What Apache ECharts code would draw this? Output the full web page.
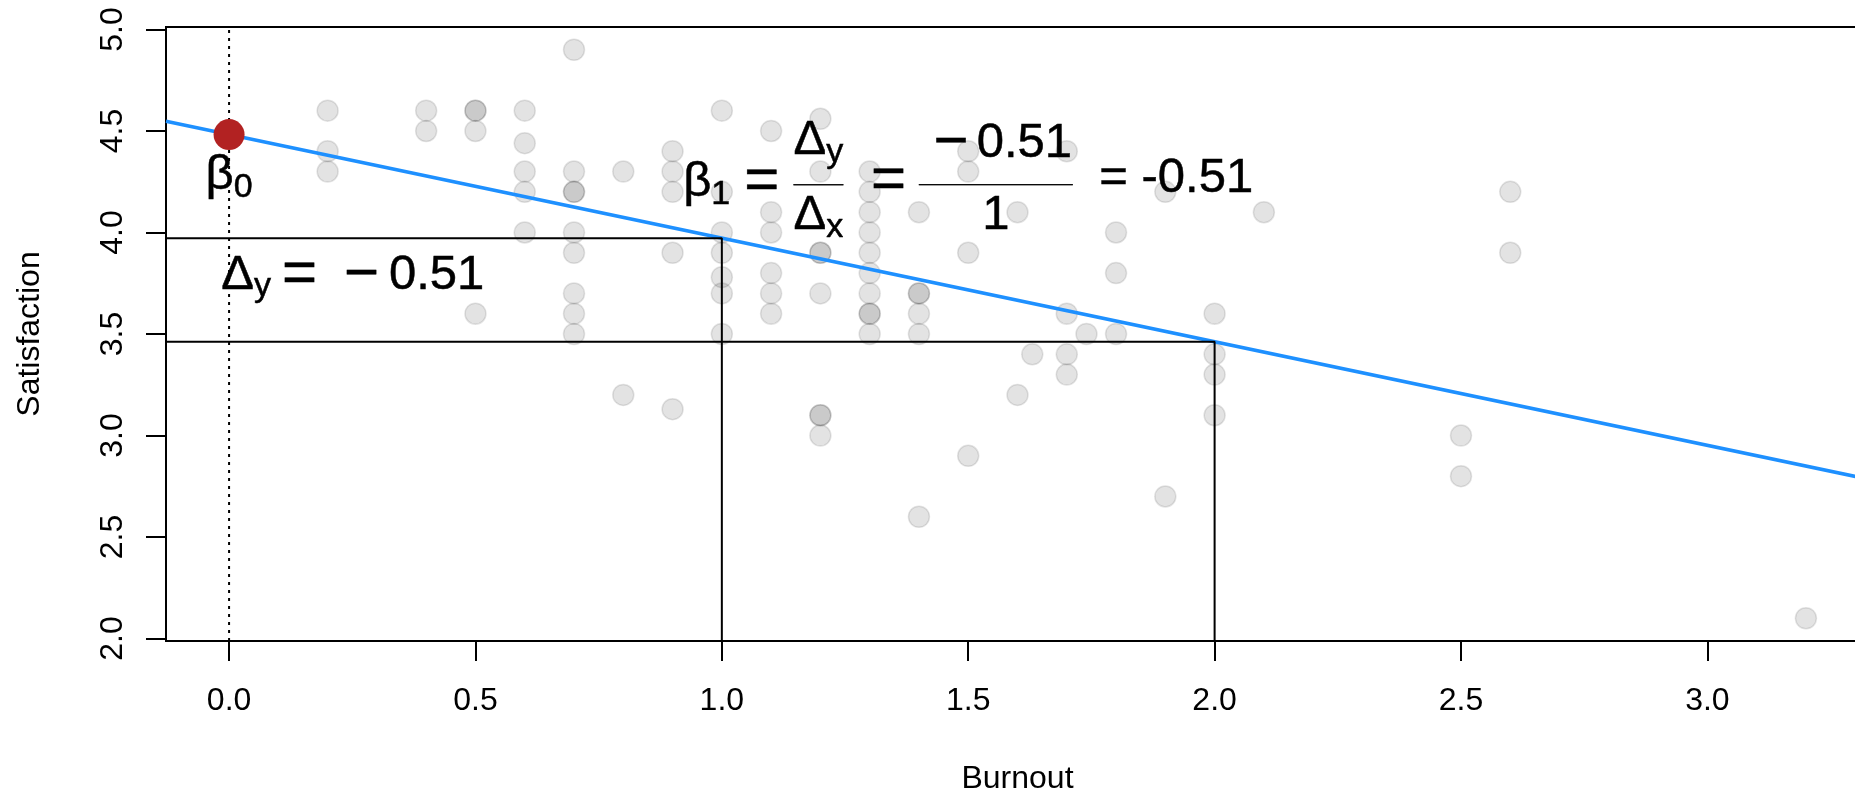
<!DOCTYPE html>
<html>
<head>
<meta charset="utf-8">
<script src="https://cdn.jsdelivr.net/npm/echarts@6/dist/echarts.min.js"></script>
<style>
  html, body { margin: 0; padding: 0; background: #ffffff; }
  #chart { width: 1855px; height: 793px; }
</style>
</head>
<body>
<div id="chart"></div>
<script>
// Burnout score of each respondent
const burnout = [
  0.2, 0.2, 0.2,
  0.4, 0.4,
  0.5, 0.5, 0.5, 0.5,
  0.6, 0.6, 0.6, 0.6, 0.6,
  0.7, 0.7, 0.7, 0.7, 0.7, 0.7, 0.7, 0.7, 0.7,
  0.8, 0.8,
  0.9, 0.9, 0.9, 0.9, 0.9,
  1.0, 1.0, 1.0, 1.0, 1.0, 1.0, 1.0,
  1.1, 1.1, 1.1, 1.1, 1.1, 1.1,
  1.2, 1.2, 1.2, 1.2, 1.2, 1.2, 1.2, 1.2,
  1.3, 1.3, 1.3, 1.3, 1.3, 1.3, 1.3, 1.3, 1.3, 1.3,
  1.4, 1.4, 1.4, 1.4, 1.4, 1.4,
  1.5, 1.5, 1.5, 1.5,
  1.6, 1.6,
  1.63,
  1.7, 1.7, 1.7, 1.7,
  1.74,
  1.8, 1.8, 1.8,
  1.9, 1.9,
  2.0, 2.0, 2.0, 2.0,
  2.1,
  2.5, 2.5,
  2.6, 2.6,
  3.2
];
// Satisfaction score of the same respondents
const satisfaction = [
  4.6, 4.4, 4.3,
  4.6, 4.5,
  4.6, 4.6, 4.5, 3.6,
  4.6, 4.44, 4.3, 4.2, 4.0,
  4.9, 4.3, 4.2, 4.2, 4.0, 3.9, 3.7, 3.6, 3.5,
  4.3, 3.2,
  4.4, 4.3, 4.2, 3.9, 3.13,
  4.6, 4.2, 4.0, 3.9, 3.78, 3.7, 3.5,
  4.5, 4.1, 4.0, 3.8, 3.7, 3.6,
  4.56, 4.3, 3.9, 3.9, 3.7, 3.1, 3.1, 3.0,
  4.3, 4.2, 4.1, 4.0, 3.9, 3.8, 3.7, 3.6, 3.6, 3.5,
  4.1, 3.7, 3.7, 3.6, 3.5, 2.6,
  4.4, 4.3, 3.9, 2.9,
  4.1, 3.2,
  3.4,
  4.4, 3.6, 3.4, 3.3,
  3.5,
  4.0, 3.8, 3.5,
  4.2, 2.7,
  3.6, 3.4, 3.3, 3.1,
  4.1,
  3.0, 2.8,
  4.2, 3.9,
  2.1
];
// Least-squares fit: satisfaction = intercept + slope * burnout
const intercept = 4.482;
const slope = -0.51;
// Axis tick values
const xTicks = [0, 0.5, 1, 1.5, 2, 2.5, 3];
const yTicks = [2, 2.5, 3, 3.5, 4, 4.5, 5];
// Plotting region in data units
const xRange = [-0.128, 3.328];
const yRange = [1.988, 5.012];

const FONT = '"Liberation Sans", Arial, Helvetica, sans-serif';
const fitAt = x => intercept + slope * x;

const points = burnout.map((b, i) => [b, satisfaction[i]]);
const yAt1 = fitAt(1);
const yAt2 = fitAt(2);

// Text styles for the formula annotations (subscripts are pushed down by their top padding)
const T = { fontFamily: FONT, color: '#000', textBorderColor: '#000', textBorderWidth: 0.5 };
const SUB = 24;
const rich = {
  g:   Object.assign({ fontSize: 49, lineHeight: 56 }, T),
  s:   Object.assign({ fontSize: 34, lineHeight: 56, padding: [SUB, 0, 0, 0] }, T),
  sy:  Object.assign({ fontSize: 34, lineHeight: 56, padding: [SUB, 11, 0, 0] }, T),
  s1:  Object.assign({ fontSize: 34, lineHeight: 56, padding: [SUB, 14, 0, 0] }, T),
  op:  Object.assign({ fontSize: 60, lineHeight: 56 }, T),
  opA: Object.assign({ fontSize: 60, lineHeight: 56, padding: [0, 27, 0, 0] }, T),
  opB: Object.assign({ fontSize: 60, lineHeight: 56, padding: [0, 10, 0, 0] }, T),
  opN: Object.assign({ fontSize: 60, lineHeight: 56, padding: [0, 8, 0, 14] }, T),
  gD:  Object.assign({ fontSize: 49, lineHeight: 30 }, T),
  sD:  Object.assign({ fontSize: 34, lineHeight: 30, padding: [SUB, 0, 0, 0] }, T),
  gE:  Object.assign({ fontSize: 49, lineHeight: 35 }, T),
  bar1: { width: 50, height: 0, lineHeight: 32, borderColor: '#000', borderWidth: 1 },
  bar2: { width: 154, height: 0, lineHeight: 27, borderColor: '#000', borderWidth: 1 }
};

const note = (pos, text) => ({
  value: pos,
  label: { show: true, formatter: text }
});

const annotations = [
  note([0, 4.281], '{g|β}{s|0}'),
  note([0.251, 3.790], '{g|Δ}{sy|y}{opA|=}{opB|−}{g|0.51}'),
  note([1.019, 4.246], '{g|β}{s1|1}{op|=}'),
  note([1.196, 4.299], '{g|Δ}{s|y}\n{bar1|}\n{gD|Δ}{sD|x}'),
  note([1.338, 4.250], '{op|=}'),
  note([1.556, 4.287], '{opN|−}{g|0.51}\n{bar2|}\n{gE|1}'),
  note([1.922, 4.266], '{g|= -0.51}')
];

const axisText = { fontFamily: FONT, fontSize: 32, color: '#000' };
const blackLine = (data, extra) => Object.assign({
  type: 'line', data: data, symbol: 'none', silent: true, z: 3,
  lineStyle: { color: '#000', width: 2 }
}, extra || {});

const chart = echarts.init(document.getElementById('chart'), null, { renderer: 'canvas' });
chart.setOption({
  animation: false,
  backgroundColor: '#ffffff',
  grid: {
    left: 166, top: 27, width: 1703, height: 614,
    show: true, borderColor: '#000', borderWidth: 2,
    containLabel: false, outerBoundsMode: 'none'
  },
  xAxis: {
    type: 'value', min: xRange[0], max: xRange[1],
    axisLine: { show: false, onZero: false },
    splitLine: { show: false },
    axisTick: { show: true, customValues: xTicks, length: 20, lineStyle: { color: '#000', width: 2 } },
    axisLabel: Object.assign({ customValues: xTicks, formatter: v => v.toFixed(1), margin: 44 }, axisText),
    name: 'Burnout', nameLocation: 'middle', nameGap: 122,
    nameTextStyle: axisText
  },
  yAxis: {
    type: 'value', min: yRange[0], max: yRange[1],
    axisLine: { show: false, onZero: false },
    splitLine: { show: false },
    axisTick: { show: true, customValues: yTicks, length: 20, lineStyle: { color: '#000', width: 2 } },
    axisLabel: Object.assign({ customValues: yTicks, formatter: v => v.toFixed(1), rotate: 90, margin: 37 }, axisText),
    name: 'Satisfaction', nameLocation: 'middle', nameGap: 120,
    nameTextStyle: axisText
  },
  series: [
    {
      name: 'Respondents', type: 'scatter', data: points, z: 2, silent: true,
      symbol: 'circle', symbolSize: 21,
      itemStyle: { color: 'rgba(0,0,0,0.11)', borderColor: 'rgba(0,0,0,0.11)', borderWidth: 1.5, opacity: 1 }
    },
    {
      name: 'Fit', type: 'line', symbol: 'none', silent: true, z: 3,
      data: [[xRange[0], fitAt(xRange[0])], [xRange[1], fitAt(xRange[1])]],
      lineStyle: { color: '#1E90FF', width: 3.6 }
    },
    blackLine([[0, yRange[0]], [0, yRange[1]]], { lineStyle: { color: '#000', width: 2, type: [3, 5] } }),
    blackLine([[xRange[0], yAt1], [1, yAt1], [1, yRange[0]]]),
    blackLine([[xRange[0], yAt2], [2, yAt2], [2, yRange[0]]]),
    {
      name: 'Intercept', type: 'scatter', data: [[0, intercept]], z: 4, silent: true,
      symbol: 'circle', symbolSize: 31,
      itemStyle: { color: '#B22222', opacity: 1 }
    },
    {
      name: 'Notes', type: 'scatter', data: annotations, z: 5, silent: true,
      symbolSize: 1, itemStyle: { color: 'rgba(0,0,0,0)' },
      label: {
        show: true, position: 'inside', align: 'center', verticalAlign: 'middle',
        color: '#000', opacity: 1, rich: rich
      }
    }
  ]
});
</script>
</body>
</html>
